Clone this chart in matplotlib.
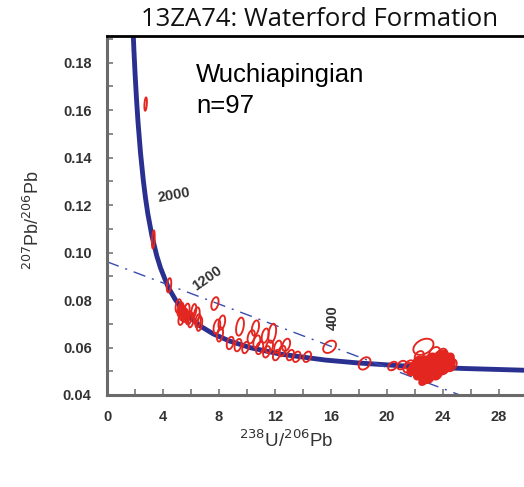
import numpy as np
import matplotlib
matplotlib.use("Agg")
import matplotlib.pyplot as plt
from matplotlib.patches import Polygon
from matplotlib.ticker import MultipleLocator, FormatStrFormatter

plt.rcParams['font.family'] = ['Liberation Sans', 'DejaVu Sans']

# concordia curve (238U/206Pb, 207Pb/206Pb)
conc_x = [1.838, 1.922, 2.013, 2.111, 2.217, 2.394, 2.597, 2.749, 2.917, 3.206,
          3.550, 3.817, 4.292, 4.476, 4.888, 5.375, 5.959, 6.674, 7.568, 8.718,
          10.25, 12.40, 15.62, 17.92, 20.99, 25.29, 31.73, 33.43]
conc_y = [0.1968, 0.1852, 0.1744, 0.1643, 0.1548, 0.1419, 0.1302, 0.1230, 0.1163, 0.1071,
          0.0987, 0.0936, 0.0865, 0.0843, 0.0801, 0.0762, 0.0725, 0.0690, 0.0658, 0.0628,
          0.0599, 0.0572, 0.0547, 0.0535, 0.0523, 0.0512, 0.0501, 0.0499]

# discordia line intercepts
disc_x = [0.0, 25.2]
disc_y = [0.0961, 0.0400]

# age labels on the concordia
age_labels = ['2000', '1200', '400']
age_lx = [4.75, 7.15, 16.1]
age_ly = [0.1243, 0.0892, 0.0725]
age_rot = [10, 35, 90]

# single analyses (open ellipses): centre x, centre y, half-width x, half-height y
open_x = [2.76, 3.31, 4.43, 7.71,
          5.10, 5.25, 5.40, 5.55, 5.70, 5.85, 6.00, 6.40, 6.60, 5.30, 6.20, 6.50,
          7.85, 8.07, 8.20, 8.80, 9.36, 9.50, 10.3, 10.6, 10.7, 10.9, 11.4, 11.6, 11.8, 11.3,
          12.1, 12.2, 12.8, 13.1, 13.55, 14.3, 12.5, 9.9,
          15.9, 18.4, 20.4, 21.05, 21.6, 22.6, 23.9, 24.4, 24.6, 21.5, 23.4, 22.3]
open_y = [0.1625, 0.1055, 0.0862, 0.0785,
          0.0775, 0.0760, 0.0745, 0.0735, 0.0755, 0.0725, 0.0715, 0.0737, 0.0700, 0.0720, 0.0755, 0.0712,
          0.0688, 0.0655, 0.0705, 0.0619, 0.0610, 0.0688, 0.0645, 0.0682, 0.0625, 0.0598, 0.0582,
          0.0603, 0.0660, 0.0650,
          0.0568, 0.0603, 0.0611, 0.0568, 0.0561, 0.0561, 0.0585, 0.0600,
          0.0603, 0.0533, 0.0522, 0.0526, 0.0528, 0.0603, 0.0570, 0.0550, 0.0525, 0.0515, 0.0580, 0.0565]
open_sx = [0.09, 0.10, 0.16, 0.26,
           0.20, 0.22, 0.22, 0.22, 0.20, 0.22, 0.20, 0.22, 0.20, 0.20, 0.18, 0.20,
           0.24, 0.22, 0.24, 0.25, 0.25, 0.28, 0.26, 0.26, 0.25, 0.26, 0.25, 0.26, 0.28, 0.25,
           0.25, 0.26, 0.28, 0.26, 0.27, 0.28, 0.25, 0.24,
           0.46, 0.42, 0.32, 0.32, 0.32, 0.72, 0.38, 0.38, 0.38, 0.32, 0.38, 0.32]
open_sy = [0.0028, 0.0038, 0.0030, 0.0027,
           0.0028, 0.0030, 0.0030, 0.0028, 0.0030, 0.0028, 0.0030, 0.0032, 0.0030, 0.0025, 0.0028, 0.0028,
           0.0030, 0.0030, 0.0030, 0.0026, 0.0026, 0.0038, 0.0028, 0.0032, 0.0026, 0.0026, 0.0024,
           0.0026, 0.0040, 0.0030,
           0.0022, 0.0026, 0.0026, 0.0022, 0.0022, 0.0022, 0.0022, 0.0024,
           0.0026, 0.0026, 0.0018, 0.0018, 0.0018, 0.0034, 0.0025, 0.0025, 0.0025, 0.0020, 0.0022, 0.0020]

# crowded clusters (overlapping ellipses that read as solid)
dense_x = [22.0, 22.3, 22.5, 22.7, 22.9, 23.1, 23.3, 23.5, 23.7, 23.9, 24.1, 24.3, 24.5,
           22.2, 21.8, 23.0, 24.0, 23.6, 22.6, 5.30, 5.50, 5.75]
dense_y = [0.0520, 0.0495, 0.0535, 0.0480, 0.0510, 0.0545, 0.0500, 0.0525, 0.0555, 0.0535,
           0.0515, 0.0545, 0.0530, 0.0540, 0.0505, 0.0470, 0.0565, 0.0490, 0.0460, 0.0758,
           0.0738, 0.0725]
dense_sx = [0.40, 0.40, 0.45, 0.35, 0.45, 0.45, 0.40, 0.45, 0.45, 0.40, 0.40, 0.40, 0.35,
            0.35, 0.35, 0.35, 0.35, 0.35, 0.30, 0.18, 0.18, 0.15]
dense_sy = [0.0025, 0.0030, 0.0028, 0.0025, 0.0030, 0.0030, 0.0028, 0.0030, 0.0030, 0.0028,
            0.0028, 0.0028, 0.0025, 0.0022, 0.0022, 0.0020, 0.0022, 0.0025, 0.0018, 0.0022,
            0.0022, 0.0020]

RED = '#e3261f'
NAVY = '#2a3090'


def ellipse(ax, cx, cy, sx, sy, filled):
    t = np.linspace(0, 2 * np.pi, 60)
    rho = 0.35
    px = cx + sx * np.cos(t)
    py = cy + sy * (rho * np.cos(t) + np.sqrt(1 - rho ** 2) * np.sin(t))
    ax.add_patch(Polygon(np.column_stack([px, py]), closed=True,
                         facecolor=RED if filled else 'none', edgecolor=RED,
                         lw=1.35, zorder=3))


fig = plt.figure(figsize=(5.24, 4.87), dpi=100)
ax = fig.add_axes([107 / 524, 92 / 487, 417 / 524, 359 / 487])

ax.plot(conc_x, conc_y, color=NAVY, lw=3.5, solid_capstyle='butt', zorder=2)
ax.plot(disc_x, disc_y, color='#3b4cb0', lw=1.0, linestyle=(0, (9, 5, 1.5, 5)), zorder=2)

for cx, cy, sx, sy in zip(open_x, open_y, open_sx, open_sy):
    ellipse(ax, cx, cy, sx, sy, False)
for cx, cy, sx, sy in zip(dense_x, dense_y, dense_sx, dense_sy):
    ellipse(ax, cx, cy, sx, sy, True)

for lab, lx, ly, rot in zip(age_labels, age_lx, age_ly, age_rot):
    ax.text(lx, ly, lab, rotation=rot, ha='center', va='center', fontsize=10.5,
            fontweight='bold', color='#333333', rotation_mode='anchor')

ax.set_xlim(0, 417 / 14)
ax.set_ylim(0.04, 0.04 + 359 / 47.5 * 0.02)

ax.xaxis.set_major_locator(MultipleLocator(4))
ax.xaxis.set_minor_locator(MultipleLocator(2))
ax.yaxis.set_major_locator(MultipleLocator(0.02))
ax.yaxis.set_minor_locator(MultipleLocator(0.01))
ax.yaxis.set_major_formatter(FormatStrFormatter('%.2f'))
ax.tick_params(which='both', direction='in', length=4, width=1.2, color='#777777',
               labelsize=10.5, labelcolor='#333333', pad=11)
for lab in ax.get_xticklabels() + ax.get_yticklabels():
    lab.set_fontweight('bold')

for s in ['left', 'bottom']:
    ax.spines[s].set_color('#6a6a6a')
    ax.spines[s].set_linewidth(2.2)
ax.spines['top'].set_color('black')
ax.spines['top'].set_linewidth(2.0)
ax.spines['right'].set_visible(False)

fig.text(320 / 524, 1 - 19 / 487, '13ZA74: Waterford Formation', ha='center', va='center',
         fontsize=18.5, color='#111111', family=['Open Sans', 'DejaVu Sans'])
fig.text(196 / 524, 1 - 82 / 487, 'Wuchiapingian', ha='left', va='baseline', fontsize=18.5)
fig.text(196 / 524, 1 - 113 / 487, 'n=97', ha='left', va='baseline', fontsize=18.5)

fig.text(286 / 524, 1 - 440 / 487, r'$^{238}$U/$^{206}$Pb', ha='center', va='center',
         fontsize=13.5, color='#333333')
fig.text(33 / 524, 1 - 220 / 487, r'$^{207}$Pb/$^{206}$Pb', ha='center', va='center',
         rotation=90, fontsize=13, color='#333333')

fig.savefig('out.png', dpi=100)
